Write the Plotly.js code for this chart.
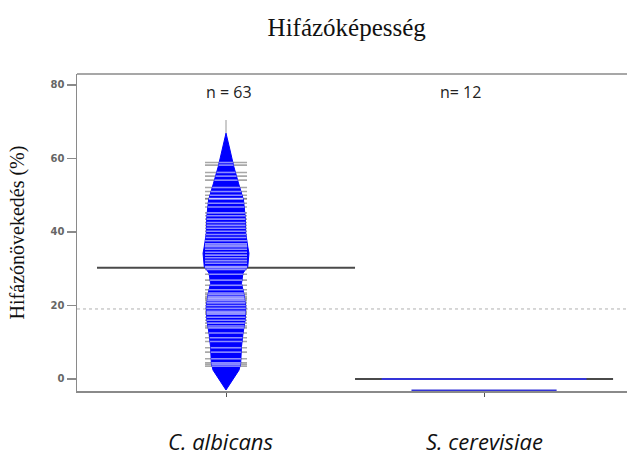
<!DOCTYPE html>
<html><head><meta charset="utf-8">
<script src="https://cdn.plot.ly/plotly-3.0.1.min.js"></script>
<style>html,body{margin:0;padding:0;background:#fff}</style>
</head><body><div id="chart" style="width:627px;height:455px"></div>
<script>
// ---- data ----
const categories = ['C. albicans', 'S. cerevisiae'];
const groupLabels = ['n = 63', 'n= 12'];
const cAlbicansValues = [
  58.9, 58.2, 56.2, 55.2, 54.1, 52.1, 51.0, 50.0, 49.1, 49.0, 47.8, 46.8, 45.2,
  44.4, 43.5, 42.6, 41.8, 41.0, 40.2,
  39.3, 38.5, 37.6, 36.8, 36.4, 36.0, 35.3,
  34.5, 33.7, 33.0, 32.2, 31.5, 30.6, 29.8,
  28.5, 26.9, 25.5,
  24.3, 23.4, 23.0, 22.4, 22.0, 21.7, 21.3, 20.7, 20.0,
  19.2, 18.4, 18.0, 17.6, 16.8, 16.0, 15.2,
  14.4, 13.9, 12.5, 11.2, 10.2,
  8.5, 7.3, 5.5, 4.4, 4.0, 3.5
];
const sCerevisiaeValues = [0, 0, 0, 0, 0, 0, 0, 0, 0, 0, 0, 0];
const overallLineValue = 19.05;
// bean outline (relative density) for C. albicans
const cAlbDensityLevels = [66.9, 65.0, 62.3, 57.8, 53.3, 48.7, 44.2, 39.6, 36.0, 34.2, 30.6, 28.8, 26.0, 23.3, 19.7, 16.1, 12.4, 8.8, 4.3, 2.4, -3.0];
const cAlbDensityRel    = [0, 0.065, 0.174, 0.339, 0.543, 0.761, 0.835, 0.861, 0.948, 1.0, 0.948, 0.739, 0.674, 0.774, 0.861, 0.835, 0.739, 0.674, 0.639, 0.565, 0];
const cAlbTailTop = 70.5;
// degenerate bean for S. cerevisiae
const sCerDensityLevels = [0, -3.1];
const sCerDensityRel = [4.46, 3.16];
const yTickValues = [0, 20, 40, 60, 80];

// ---- drawing ----
const BEAN_HALF = 0.089;   // category units for relative density 1
const LINE_HALF = 0.0814;  // beanline half length
const mean = a => a.reduce((s, v) => s + v, 0) / a.length;
const positions = [1, 2];

function interpRel(levels, rel, v) {
  for (let i = 0; i < levels.length - 1; i++) {
    const a = levels[i], b = levels[i + 1];
    if (v <= a && v >= b) { const t = (a - v) / (a - b); return rel[i] + t * (rel[i + 1] - rel[i]); }
  }
  return 0;
}

const traces = [];
const m1 = mean(cAlbicansValues), m2 = mean(sCerevisiaeValues);
// mean lines
traces.push({x: [positions[0] - 0.5, positions[0] + 0.5, null, positions[1] - 0.5, positions[1] + 0.5],
  y: [m1, m1, null, m2, m2], mode: 'lines', line: {color: '#4a4a4a', width: 2}, hoverinfo: 'skip'});
// gray beanlines (outside colour)
(function () {
  const xs = [], ys = [];
  cAlbicansValues.forEach(v => { xs.push(positions[0] - LINE_HALF, positions[0] + LINE_HALF, null); ys.push(v, v, null); });
  traces.push({x: xs, y: ys, mode: 'lines', line: {color: 'rgba(110,110,110,0.6)', width: 1.6}, hoverinfo: 'skip'});
})();
// tail
traces.push({x: [positions[0], positions[0]], y: [cAlbDensityLevels[0], cAlbTailTop], mode: 'lines',
  line: {color: '#bbbbbb', width: 1.5}, hoverinfo: 'skip'});
// bean polygon
(function () {
  const xs = [], ys = [];
  cAlbDensityLevels.forEach((l, i) => { xs.push(positions[0] - cAlbDensityRel[i] * BEAN_HALF); ys.push(l); });
  for (let i = cAlbDensityLevels.length - 1; i >= 0; i--) { xs.push(positions[0] + cAlbDensityRel[i] * BEAN_HALF); ys.push(cAlbDensityLevels[i]); }
  traces.push({x: xs, y: ys, mode: 'lines', fill: 'toself', fillcolor: '#0000ff', line: {color: '#0000ff', width: 1}, hoverinfo: 'skip'});
})();
// inner beanlines
(function () {
  const xs = [], ys = [];
  cAlbicansValues.concat([m1]).forEach(v => {
    const h = Math.min(LINE_HALF, interpRel(cAlbDensityLevels, cAlbDensityRel, v) * BEAN_HALF);
    xs.push(positions[0] - h, positions[0] + h, null); ys.push(v, v, null);
  });
  traces.push({x: xs, y: ys, mode: 'lines', line: {color: 'rgba(255,255,255,0.55)', width: 1.6}, hoverinfo: 'skip'});
})();
// S. cerevisiae bean
(function () {
  const xs = [], ys = [];
  sCerDensityLevels.forEach((l, i) => { xs.push(positions[1] - sCerDensityRel[i] * BEAN_HALF, positions[1] + sCerDensityRel[i] * BEAN_HALF, null); ys.push(l, l, null); });
  traces.push({x: xs, y: ys, mode: 'lines', line: {color: '#3434d8', width: 2}, hoverinfo: 'skip'});
})();

const annotations = [
  {text: groupLabels[0], x: 1.01, y: 78.1, xref: 'x', yref: 'y', xanchor: 'center', yanchor: 'middle', showarrow: false, font: {family: 'Open Sans', size: 16, color: '#222'}},
  {text: groupLabels[1], x: 1.91, y: 78.1, xref: 'x', yref: 'y', xanchor: 'center', yanchor: 'middle', showarrow: false, font: {family: 'Open Sans', size: 16, color: '#222'}},
  {text: '<i>' + categories[0] + '</i>', x: 0.98, y: -0.158, xref: 'x', yref: 'paper', xanchor: 'center', yanchor: 'middle', showarrow: false, font: {family: 'Open Sans', size: 22, color: '#111'}},
  {text: '<i>' + categories[1] + '</i>', x: 2.0, y: -0.158, xref: 'x', yref: 'paper', xanchor: 'center', yanchor: 'middle', showarrow: false, font: {family: 'Open Sans', size: 22, color: '#111'}}
];

const layout = {
  width: 627, height: 455,
  margin: {l: 77, r: 0, t: 74, b: 64},
  paper_bgcolor: '#fff', plot_bgcolor: '#fff',
  showlegend: false,
  title: {text: 'Hifázóképesség', x: 0.553, xref: 'container', xanchor: 'center', y: 1 - 27 / 455, yref: 'container', yanchor: 'middle',
    font: {family: 'Liberation Serif', size: 25, color: '#111'}},
  xaxis: {range: [0.4225, 2.554], showgrid: false, zeroline: false, showline: true, linecolor: '#8a8a8a', linewidth: 1.5,
    tickvals: positions, ticks: 'outside', ticklen: 4, tickcolor: '#555', showticklabels: false, fixedrange: true},
  yaxis: {range: [-3.27, 82.99], showgrid: false, zeroline: false, showline: true, linecolor: '#8a8a8a', linewidth: 1.5,
    tickvals: yTickValues, ticks: 'outside', ticklen: 9, tickcolor: '#8a8a8a', tickwidth: 1.5,
    tickfont: {family: 'DejaVu Sans', size: 10, color: '#666', weight: 700},
    title: {text: 'Hifázónövekedés (%)', standoff: 20, font: {family: 'Liberation Serif', size: 20, color: '#111'}}, fixedrange: true},
  shapes: [
    {type: 'line', xref: 'paper', yref: 'y', x0: 0, x1: 1, y0: overallLineValue, y1: overallLineValue, layer: 'below',
      line: {color: '#b0b0b0', width: 1, dash: 'dot'}},
    {type: 'line', xref: 'paper', yref: 'paper', x0: 0, x1: 1, y0: 1, y1: 1, line: {color: '#8a8a8a', width: 1.5}}
  ],
  annotations: annotations
};
Plotly.newPlot('chart', traces, layout, {displayModeBar: false, staticPlot: true});
</script></body></html>
